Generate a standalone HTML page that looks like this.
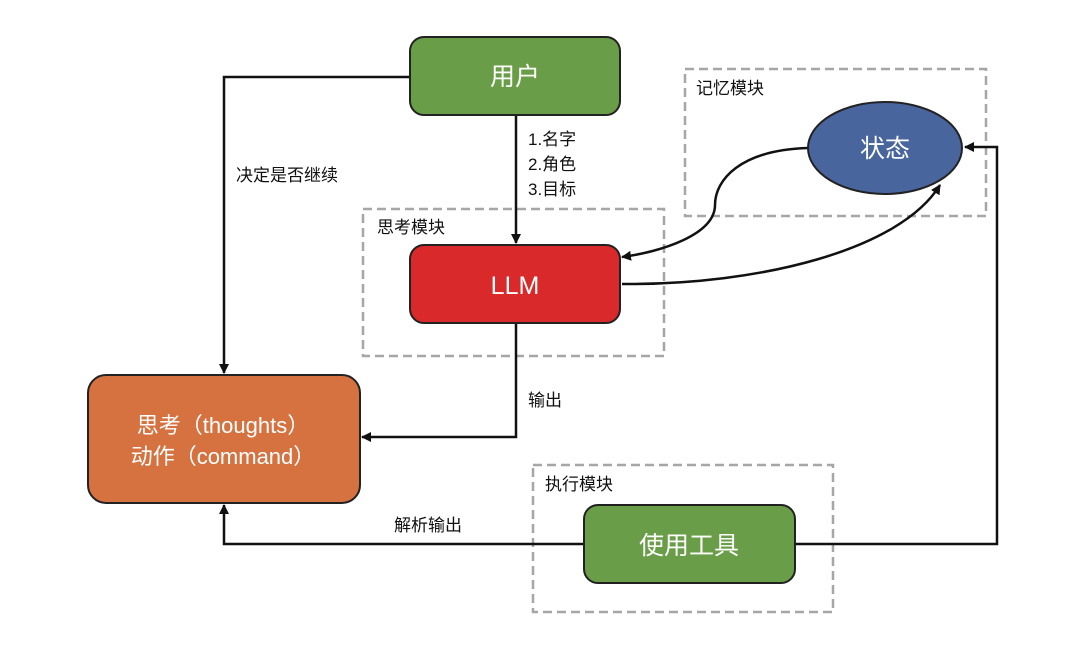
<!DOCTYPE html>
<html><head><meta charset="utf-8"><style>
body{margin:0;background:#fff}
svg text{font-family:"Liberation Sans","Noto Sans CJK SC",sans-serif}
</style></head><body>
<svg width="1080" height="644" viewBox="0 0 1080 644" xmlns="http://www.w3.org/2000/svg">
<defs><marker id="a" markerWidth="10" markerHeight="10" refX="9" refY="5" orient="auto" markerUnits="userSpaceOnUse"><path d="M0,0 L10,5 L0,10 z" fill="#111"/></marker></defs>
<g fill="none" stroke="#a6a6a6" stroke-width="2.5" stroke-dasharray="9,5">
<rect x="363" y="209" width="301" height="147"/>
<rect x="685" y="69" width="301" height="147"/>
<rect x="533" y="465" width="300" height="147"/>
</g>
<g fill="none" stroke="#111" stroke-width="2.5">
<path d="M410,77 H224 V373" marker-end="url(#a)"/>
<path d="M516,115 V243" marker-end="url(#a)"/>
<path d="M516,323 V437 H362" marker-end="url(#a)"/>
<path d="M584,544 H224 V505" marker-end="url(#a)"/>
<path d="M795,544 H997 V147 H965" marker-end="url(#a)"/>
<path d="M808,148 C740,150 715,180 715,205 C715,235 660,252 622,257" marker-end="url(#a)"/>
<path d="M622,284 C760,285 900,250 940,185" marker-end="url(#a)"/>
</g>
<rect x="410" y="37" width="210" height="78" rx="14" fill="#6a9d47" stroke="#222" stroke-width="2"/>
<rect x="410" y="245" width="210" height="78" rx="14" fill="#d9292b" stroke="#222" stroke-width="2"/>
<rect x="88" y="375" width="272" height="128" rx="18" fill="#d57240" stroke="#222" stroke-width="2"/>
<rect x="584" y="505" width="211" height="78" rx="14" fill="#6a9d47" stroke="#222" stroke-width="2"/>
<ellipse cx="885" cy="148" rx="77" ry="46" fill="#48659e" stroke="#222" stroke-width="2"/>
<g fill="#fff" text-anchor="middle" font-size="25">
<text x="515" y="85">用户</text>
<text x="515" y="294">LLM</text>
<text x="689" y="554">使用工具</text>
<text x="885" y="157">状态</text>
<text x="223" y="433" font-size="22">思考（thoughts）</text>
<text x="223" y="464" font-size="22">动作（command）</text>
</g>
<g fill="#111" font-size="17">
<text x="528" y="145">1.名字</text>
<text x="528" y="170">2.角色</text>
<text x="528" y="195">3.目标</text>
<text x="236" y="181">决定是否继续</text>
<text x="377" y="233">思考模块</text>
<text x="696" y="94">记忆模块</text>
<text x="545" y="490">执行模块</text>
<text x="528" y="406">输出</text>
<text x="394" y="531">解析输出</text>
</g>
</svg>
</body></html>
